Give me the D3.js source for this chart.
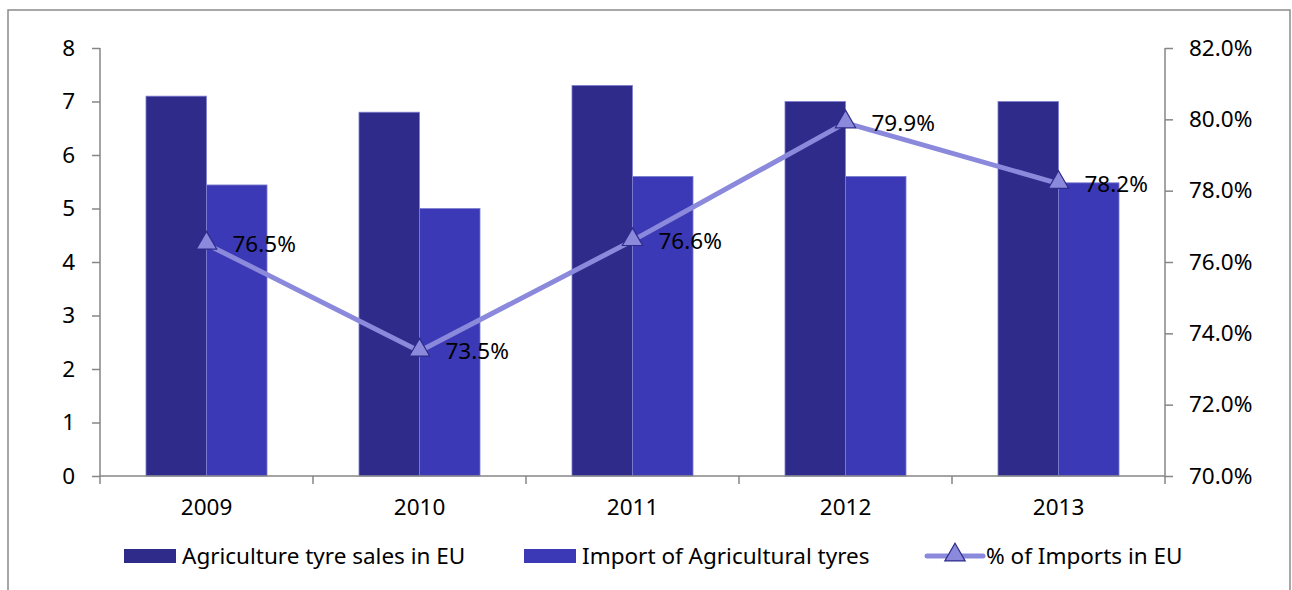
<!DOCTYPE html>
<html lang="en">
<head>
    <meta charset="UTF-8">
    <title>Agricultural tyres</title>
    <script src="https://d3js.org/d3.v7.min.js"></script>
    <style>
        body { margin: 0; background: #fff; }
        svg text { font-family: "Noto Sans", "Open Sans", sans-serif; font-size: 22.5px; fill: #000; }
    </style>
</head>
<body>
    <svg width="1292" height="590"></svg>
    <script>
        // data
        const years = ["2009", "2010", "2011", "2012", "2013"];
        const salesEU = [7.1, 6.8, 7.3, 7.0, 7.0];
        const importsEU = [5.44, 5.0, 5.6, 5.6, 5.48];
        const importShare = [76.5, 73.5, 76.6, 79.9, 78.2];
        const leftTicks = [0, 1, 2, 3, 4, 5, 6, 7, 8];
        const rightTicks = [70, 72, 74, 76, 78, 80, 82];
        const seriesNames = ["Agriculture tyre sales in EU", "Import of Agricultural tyres", "% of Imports in EU"];

        const darkBar = "#2e2b8a", lightBar = "#3c39b6", lineCol = "#8a89dc", axisCol = "#868686";

        const svg = d3.select("svg");
        const plotL = 100, plotR = 1165, plotT = 48, plotB = 476;

        // frame
        svg.append("rect")
            .attr("x", 8).attr("y", 10).attr("width", 1282).attr("height", 600)
            .attr("fill", "none").attr("stroke", "#8a8a8a").attr("stroke-width", 1.5);

        const x = d3.scaleBand().domain(years).range([plotL, plotR]);
        const xInner = d3.scaleBand().domain([0, 1]).range([0, x.bandwidth()]).paddingInner(0).paddingOuter(0.76);
        const y = d3.scaleLinear().domain([0, 8]).range([plotB, plotT]);
        const y2 = d3.scaleLinear().domain([70, 82]).range([plotB, plotT]);

        // bars
        const groups = svg.append("g").selectAll("g").data(years).enter().append("g")
            .attr("transform", d => `translate(${x(d)},0)`);
        groups.append("rect")
            .attr("x", xInner(0)).attr("width", xInner.bandwidth())
            .attr("y", (d, i) => y(salesEU[i])).attr("height", (d, i) => plotB - y(salesEU[i]))
            .attr("fill", darkBar).attr("stroke", "#7f7fd0").attr("stroke-width", 0.8);
        groups.append("rect")
            .attr("x", xInner(1)).attr("width", xInner.bandwidth())
            .attr("y", (d, i) => y(importsEU[i])).attr("height", (d, i) => plotB - y(importsEU[i]))
            .attr("fill", lightBar).attr("stroke", "#7f7fd0").attr("stroke-width", 0.8);

        // left axis
        const yAxis = svg.append("g").attr("transform", `translate(${plotL},0)`)
            .call(d3.axisLeft(y).tickValues(leftTicks).tickSize(8).tickPadding(17).tickFormat(d3.format("d")));
        // right axis
        const y2Axis = svg.append("g").attr("transform", `translate(${plotR},0)`)
            .call(d3.axisRight(y2).tickValues(rightTicks).tickSize(8).tickPadding(16).tickFormat(d => d.toFixed(1) + "%"));
        // bottom axis
        const xAxis = svg.append("g").attr("transform", `translate(0,${plotB})`)
            .call(d3.axisBottom(x).tickSize(0).tickPadding(23));
        // category separators
        xAxis.selectAll(".sep").data(years.concat(["end"])).enter().append("line")
            .attr("x1", (d, i) => plotL + i * x.step()).attr("x2", (d, i) => plotL + i * x.step())
            .attr("y1", 0).attr("y2", 8).attr("stroke", axisCol).attr("stroke-width", 1.5);

        [yAxis, y2Axis, xAxis].forEach(a => {
            a.select(".domain").attr("stroke", axisCol).attr("stroke-width", 1.5);
            a.selectAll(".tick line").attr("stroke", axisCol).attr("stroke-width", 1.5);
            a.selectAll("text").attr("font-family", null).attr("font-size", null).attr("fill", "#000");
        });
        yAxis.select(".domain").attr("d", `M0,${plotT}V${plotB}`);
        y2Axis.select(".domain").attr("d", `M0,${plotT}V${plotB}`);
        xAxis.select(".domain").attr("d", `M${plotL},0H${plotR}`);

        // line series
        const cx = d => x(d) + x.bandwidth() / 2;
        const line = d3.line().x((d, i) => cx(years[i])).y(d => y2(d));
        svg.append("path").datum(importShare)
            .attr("d", line).attr("fill", "none").attr("stroke", lineCol).attr("stroke-width", 5);
        const tri = d3.symbol().type(d3.symbolTriangle).size(180);
        svg.append("g").selectAll("path").data(importShare).enter().append("path")
            .attr("d", tri)
            .attr("transform", (d, i) => `translate(${cx(years[i])},${y2(d) - 1})`)
            .attr("fill", lineCol).attr("stroke", darkBar).attr("stroke-width", 1.2);
        svg.append("g").selectAll("text").data(importShare).enter().append("text")
            .attr("x", (d, i) => cx(years[i]) + 26).attr("y", d => y2(d) + 8)
            .text(d => d.toFixed(1) + "%");

        // legend
        const legend = svg.append("g").attr("transform", "translate(0,556)");
        const legX = [124, 524, 927];
        legend.append("rect").attr("x", legX[0]).attr("y", -7).attr("width", 52).attr("height", 14).attr("fill", darkBar);
        legend.append("rect").attr("x", legX[1]).attr("y", -7).attr("width", 52).attr("height", 14).attr("fill", lightBar);
        legend.append("line").attr("x1", legX[2]).attr("x2", legX[2] + 56).attr("y1", 0).attr("y2", 0)
            .attr("stroke", lineCol).attr("stroke-width", 5).attr("stroke-linecap", "round");
        legend.append("path").attr("d", tri).attr("transform", `translate(${legX[2] + 28},-1)`)
            .attr("fill", lineCol).attr("stroke", darkBar).attr("stroke-width", 1.2);
        legend.selectAll("text.leg").data(seriesNames).enter().append("text")
            .attr("x", (d, i) => legX[i] + (i === 2 ? 59 : 58)).attr("y", 8)
            .text(d => d);
    </script>
</body>
</html>
